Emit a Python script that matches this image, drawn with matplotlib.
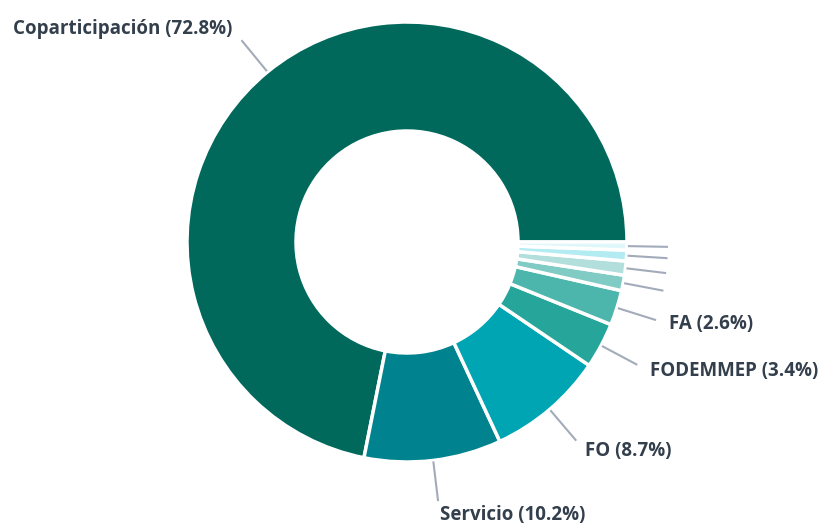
import numpy as np
import matplotlib.pyplot as plt

# values (small unlabeled slices estimated)
labels = ['Coparticipación', 'Servicio', 'FO', 'FODEMMEP', 'FA', '', '', '', '']
values = [72.8, 10.2, 8.7, 3.4, 2.6, 1.15, 1.05, 0.8, 0.6]
colors = ['#00695c', '#00838f', '#00a5b4', '#26a69a', '#4db6ac',
          '#80cbc4', '#b2dfdb', '#b2ebf2', '#e0f7fa']

fig = plt.figure(figsize=(8.3, 5.29), dpi=100)
ax = fig.add_axes([0, 0, 1, 1])
ax.axis('off')

cx, cy = 407, 529 - 242
R = 220
hole = 111

wedges, _ = ax.pie(values, colors=colors, startangle=0, counterclock=True,
                   radius=R, center=(cx, cy),
                   wedgeprops=dict(width=R - hole, edgecolor='white', linewidth=2.5))
ax.set_xlim(0, 830)
ax.set_ylim(0, 529)
ax.set_aspect('equal')

for w, lab, v in zip(wedges, labels, values):
    ang = np.deg2rad((w.theta1 + w.theta2) / 2)
    c, s = np.cos(ang), np.sin(ang)
    ax.plot([cx + (R + 1) * c, cx + (R + 41) * c],
            [cy + (R + 1) * s, cy + (R + 41) * s],
            color='#a3abbb', lw=1.5, solid_capstyle='butt')
    if lab:
        ax.text(cx + (R + 55) * c, cy + (R + 55) * s, f'{lab} ({v}%)',
                ha='left' if c > 0 else 'right', va='center',
                fontsize=13.5, fontweight='bold', family='Open Sans',
                color='#333f4c')

fig.savefig('out.png', dpi=100)
